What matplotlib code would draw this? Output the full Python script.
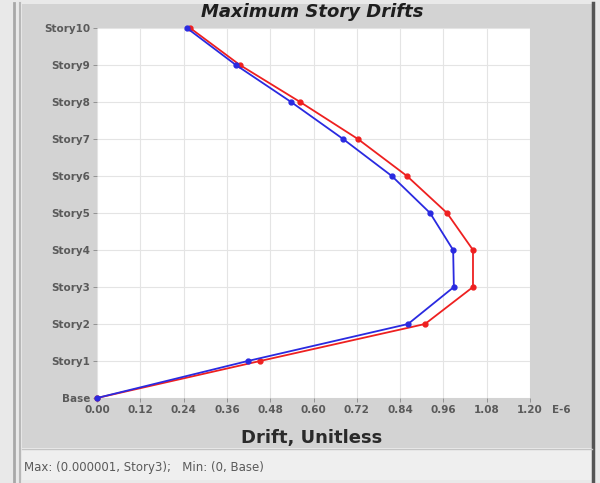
import matplotlib
matplotlib.use('Agg')
import matplotlib.pyplot as plt
from matplotlib.patches import Rectangle

# story drift profiles (x in units of 1E-6)
stories = ['Base', 'Story1', 'Story2', 'Story3', 'Story4', 'Story5',
           'Story6', 'Story7', 'Story8', 'Story9', 'Story10']
drift_blue = [0.0, 0.418, 0.862, 0.989, 0.987, 0.923, 0.817, 0.682, 0.538, 0.385, 0.249]
drift_red = [0.0, 0.452, 0.909, 1.042, 1.042, 0.970, 0.859, 0.723, 0.563, 0.396, 0.258]
xticks = [0.00, 0.12, 0.24, 0.36, 0.48, 0.60, 0.72, 0.84, 0.96, 1.08, 1.20]

fig = plt.figure(figsize=(6, 4.83), dpi=100)
fig.patch.set_facecolor('#e9e9e9')

# window frame: gray panel, status strip, borders
fig.patches.append(Rectangle((22/600, 1-448/483), 570/600, 444/483, transform=fig.transFigure,
                             facecolor='#d3d3d3', edgecolor='none', zorder=-2))
fig.patches.append(Rectangle((22/600, 1-480/483), 570/600, 32/483, transform=fig.transFigure,
                             facecolor='#efefef', edgecolor='none', zorder=-2))
for x0, c, w in [(14, '#a8a8a8', 2), (20, '#b8b8b8', 1.5), (593, '#555555', 2.5)]:
    fig.add_artist(plt.Line2D([x0/600, x0/600], [0, 1-3/483], transform=fig.transFigure,
                              color=c, lw=w, zorder=-1))
fig.add_artist(plt.Line2D([22/600, 592/600], [1-449/483, 1-449/483], transform=fig.transFigure,
                          color='#c4c4c4', lw=1, zorder=-1))

ax = fig.add_axes([97/600, 1-398/483, 433/600, 370/483])
ax.set_zorder(1)
ax.set_facecolor('white')

y = list(range(len(stories)))
ax.plot(drift_red, y, color='#ee2020', lw=1.3, marker='o', ms=3.5, zorder=3, clip_on=False)
ax.plot(drift_blue, y, color='#2a2ae0', lw=1.3, marker='o', ms=3.5, zorder=4, clip_on=False)

ax.set_xlim(0, 1.2)
ax.set_ylim(0, 10)
ax.set_xticks(xticks)
ax.set_xticklabels(['%.2f' % v for v in xticks])
ax.set_yticks(y)
ax.set_yticklabels(stories)
ax.tick_params(labelsize=7.5, labelcolor='#5a5a5a', color='#888888', length=3, width=0.6, pad=2)
for lbl in ax.get_xticklabels() + ax.get_yticklabels():
    lbl.set_fontweight('semibold')
ax.grid(True, color='#e4e4e4', lw=0.8)
for s in ax.spines.values():
    s.set_visible(False)

fig.text(561/600, 1-410/483, 'E-6', fontsize=7.5, fontweight='semibold', color='#5a5a5a',
         ha='center', va='center')
fig.text(312/600, 1-12/483, 'Maximum Story Drifts', fontsize=13, fontweight='bold',
         style='italic', ha='center', va='center', color='#1e1e1e')
fig.text(312/600, 1-438/483, 'Drift, Unitless', fontsize=13, fontweight='bold',
         ha='center', va='center', color='#2a2a2a')
fig.text(24/600, 1-468/483, 'Max: (0.000001, Story3);   Min: (0, Base)', fontsize=8.5,
         color='#5a5a5a', ha='left', va='center')

fig.savefig('out.png', dpi=100, facecolor=fig.get_facecolor())
